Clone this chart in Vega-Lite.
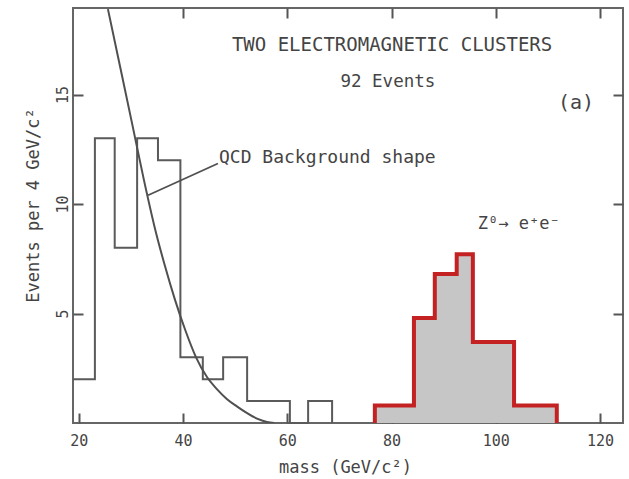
{
  "$schema": "https://vega.github.io/schema/vega-lite/v6.json",
  "width": 550,
  "height": 415,
  "autosize": "none",
  "padding": {"left": 73, "top": 8, "right": 6, "bottom": 56},
  "background": "white",
  "config": {
    "view": {"stroke": "#666666", "strokeWidth": 2},
    "font": "DejaVu Sans Mono"
  },
  "datasets": {
    "black": [
      {"i": 0, "x": 18.9, "y": 2},
      {"i": 1, "x": 23.1, "y": 13},
      {"i": 2, "x": 26.9, "y": 8},
      {"i": 3, "x": 31.2, "y": 13},
      {"i": 4, "x": 35.2, "y": 12},
      {"i": 5, "x": 39.5, "y": 3},
      {"i": 6, "x": 43.8, "y": 2},
      {"i": 7, "x": 47.7, "y": 3},
      {"i": 8, "x": 52.3, "y": 1},
      {"i": 9, "x": 60.5, "y": 0},
      {"i": 10, "x": 64.0, "y": 1},
      {"i": 11, "x": 68.6, "y": 0}
    ],
    "red": [
      {"i": 0, "x": 76.8, "y": 0},
      {"i": 1, "x": 76.8, "y": 0.8},
      {"i": 2, "x": 84.3, "y": 4.8},
      {"i": 3, "x": 88.3, "y": 6.8},
      {"i": 4, "x": 92.5, "y": 7.7},
      {"i": 5, "x": 95.6, "y": 3.7},
      {"i": 6, "x": 103.5, "y": 0.8},
      {"i": 7, "x": 111.7, "y": 0}
    ],
    "curve": [
      {"x": 25.6, "y": 18.9},
      {"x": 28.0, "y": 16.2},
      {"x": 30.3, "y": 13.6},
      {"x": 32.5, "y": 11.1},
      {"x": 34.5, "y": 9.0},
      {"x": 36.5, "y": 7.2},
      {"x": 38.5, "y": 5.6},
      {"x": 40.5, "y": 4.2},
      {"x": 42.5, "y": 3.0},
      {"x": 44.6, "y": 2.1},
      {"x": 46.5, "y": 1.55},
      {"x": 48.4, "y": 1.1},
      {"x": 50.4, "y": 0.75},
      {"x": 52.3, "y": 0.45},
      {"x": 54.2, "y": 0.2},
      {"x": 56.1, "y": 0.05},
      {"x": 57.5, "y": 0}
    ],
    "pointer": [{"x": 33.3, "y": 10.4, "x2": 46.7, "y2": 11.85}],
    "title": [{"x": 80.1, "y": 17.24, "label": "TWO ELECTROMAGNETIC CLUSTERS"}],
    "events": [{"x": 79.3, "y": 15.55, "label": "92 Events"}],
    "panel": [{"x": 115.4, "y": 14.6, "label": "(a)"}],
    "qcd": [{"x": 46.9, "y": 12.1, "label": "QCD Background shape"}],
    "zlabel": [{"x": 104.4, "y": 9.1, "label": "Z⁰→ e⁺e⁻"}]
  },
  "layer": [
    {
      "encoding": {
        "x": {
          "field": "x", "type": "quantitative",
          "scale": {"domain": [18.9, 124.4], "nice": false, "zero": false},
          "axis": {
            "orient": "bottom", "values": [20, 40, 60, 80, 100, 120],
            "domain": false, "grid": false,
            "tickSize": -10, "tickWidth": 2, "tickColor": "#555555",
            "labelPadding": 27, "labelBaseline": "middle", "labelAlign": "center",
            "labelFont": "DejaVu Sans Mono", "labelFontSize": 15, "labelColor": "#444444",
            "title": "mass (GeV/c²)", "titleFont": "DejaVu Sans Mono", "titleFontSize": 17,
            "titleFontWeight": "normal", "titleColor": "#444444",
            "titleX": 272, "titleY": 44, "titleBaseline": "middle", "titleAlign": "center"
          }
        },
        "y": {
          "field": "y", "type": "quantitative",
          "scale": {"domain": [0, 18.95], "nice": false, "zero": false},
          "axis": {
            "orient": "left", "values": [5, 10, 15],
            "domain": false, "grid": false,
            "tickSize": -10, "tickWidth": 2, "tickColor": "#555555",
            "labelPadding": 21, "labelAngle": -90, "labelBaseline": "middle", "labelAlign": "center",
            "labelFont": "DejaVu Sans Mono", "labelFontSize": 15, "labelColor": "#444444",
            "title": "Events per 4 GeV/c²", "titleFont": "DejaVu Sans Mono", "titleFontSize": 17,
            "titleFontWeight": "normal", "titleColor": "#444444", "titleAngle": -90,
            "titleX": -40, "titleY": 197, "titleBaseline": "middle", "titleAlign": "center"
          }
        }
      },
      "layer": [
        {
          "data": {"name": "red"},
          "mark": {"type": "area", "interpolate": "step-after", "color": "#c6c6c6"},
          "encoding": {"y": {"field": "y", "type": "quantitative", "stack": null}}
        },
        {
          "data": {"name": "red"},
          "mark": {"type": "line", "interpolate": "step-after", "color": "#c42222", "strokeWidth": 4, "strokeJoin": "miter"},
          "encoding": {"order": {"field": "i", "type": "quantitative"}}
        },
        {
          "data": {"name": "black"},
          "mark": {"type": "line", "interpolate": "step-after", "color": "#5a5a5a", "strokeWidth": 2},
          "encoding": {"order": {"field": "i", "type": "quantitative"}}
        },
        {
          "data": {"name": "curve"},
          "mark": {"type": "line", "interpolate": "monotone", "color": "#505050", "strokeWidth": 2, "clip": true},
          "encoding": {}
        },
        {
          "data": {"name": "pointer"},
          "mark": {"type": "rule", "color": "#505050", "strokeWidth": 1.8},
          "encoding": {"x2": {"field": "x2"}, "y2": {"field": "y2"}}
        },
        {
          "data": {"name": "title"},
          "mark": {"type": "text", "font": "DejaVu Sans Mono", "fontSize": 19, "color": "#444444", "align": "center", "baseline": "middle"},
          "encoding": {"text": {"field": "label"}}
        },
        {
          "data": {"name": "events"},
          "mark": {"type": "text", "font": "DejaVu Sans Mono", "fontSize": 17.5, "color": "#444444", "align": "center", "baseline": "middle"},
          "encoding": {"text": {"field": "label"}}
        },
        {
          "data": {"name": "panel"},
          "mark": {"type": "text", "font": "DejaVu Sans Mono", "fontSize": 20, "color": "#444444", "align": "center", "baseline": "middle"},
          "encoding": {"text": {"field": "label"}}
        },
        {
          "data": {"name": "qcd"},
          "mark": {"type": "text", "font": "DejaVu Sans Mono", "fontSize": 18, "color": "#444444", "align": "left", "baseline": "middle"},
          "encoding": {"text": {"field": "label"}}
        },
        {
          "data": {"name": "zlabel"},
          "mark": {"type": "text", "font": "DejaVu Sans Mono", "fontSize": 17, "color": "#444444", "align": "center", "baseline": "middle"},
          "encoding": {"text": {"field": "label"}}
        }
      ]
    },
    {
      "data": {"name": "black"},
      "mark": {"type": "point", "opacity": 0},
      "encoding": {
        "x": {
          "field": "x", "type": "quantitative",
          "scale": {"domain": [18.9, 124.4], "nice": false, "zero": false},
          "axis": {"orient": "top", "values": [40, 60, 80, 100, 120], "domain": false, "grid": false, "labels": false, "title": null, "tickSize": -10, "tickWidth": 2, "tickColor": "#555555"}
        },
        "y": {
          "field": "y", "type": "quantitative",
          "scale": {"domain": [0, 18.95], "nice": false, "zero": false},
          "axis": {"orient": "right", "values": [5, 10, 15], "domain": false, "grid": false, "labels": false, "title": null, "tickSize": -10, "tickWidth": 2, "tickColor": "#555555"}
        }
      }
    }
  ],
  "resolve": {"axis": {"x": "independent", "y": "independent"}}
}
